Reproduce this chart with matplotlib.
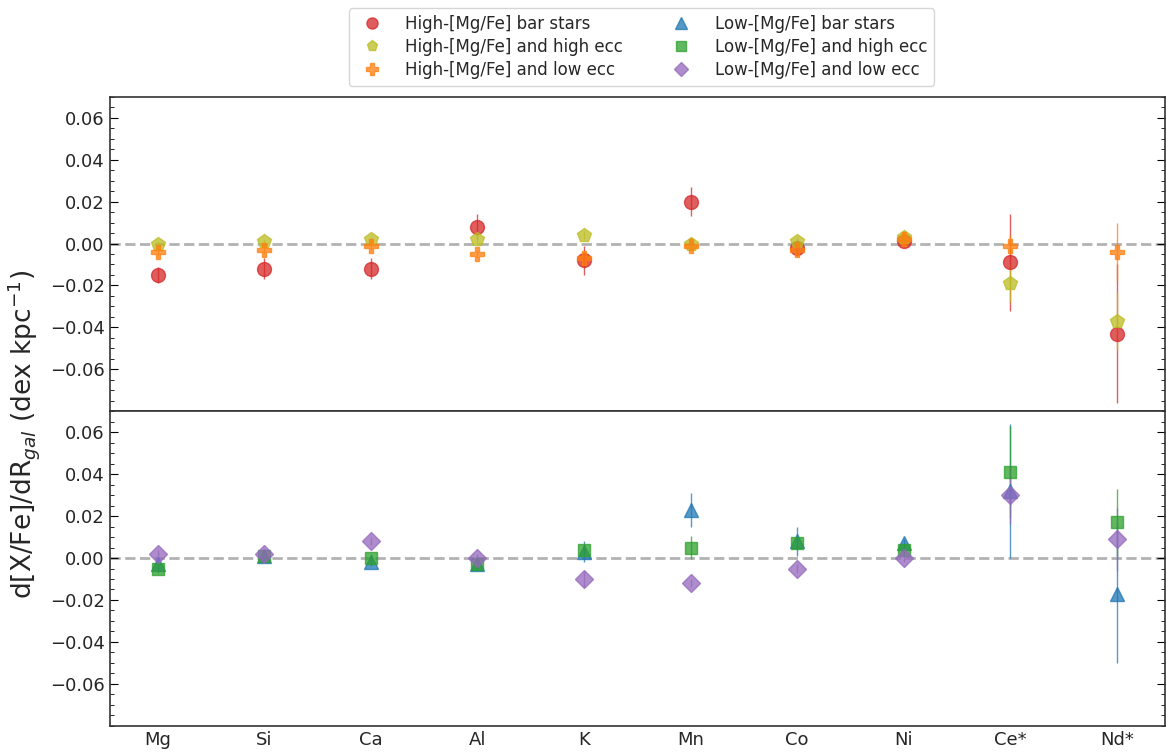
import matplotlib.pyplot as plt
import numpy as np
from matplotlib.ticker import AutoMinorLocator

elements = ['Mg', 'Si', 'Ca', 'Al', 'K', 'Mn', 'Co', 'Ni', 'Ce*', 'Nd*']

# high-[Mg/Fe] gradients (top panel)
hi_bar = [-0.015, -0.012, -0.012, 0.008, -0.008, 0.020, -0.002, 0.001, -0.009, -0.043]
hi_bar_err = [0.004, 0.005, 0.005, 0.006, 0.007, 0.007, 0.004, 0.002, 0.023, 0.033]
hi_hecc = [0.000, 0.001, 0.002, 0.002, 0.004, 0.000, 0.001, 0.003, -0.019, -0.037]
hi_hecc_err = [0.001, 0.001, 0.001, 0.002, 0.002, 0.003, 0.002, 0.001, 0.009, 0.014]
hi_lecc = [-0.004, -0.003, -0.001, -0.005, -0.007, -0.001, -0.003, 0.002, -0.001, -0.004]
hi_lecc_err = [0.002, 0.002, 0.002, 0.002, 0.003, 0.002, 0.003, 0.001, 0.005, 0.014]

# low-[Mg/Fe] gradients (bottom panel)
lo_bar = [-0.003, 0.001, -0.002, -0.003, 0.003, 0.023, 0.008, 0.007, 0.032, -0.017]
lo_bar_err = [0.003, 0.002, 0.002, 0.002, 0.005, 0.008, 0.007, 0.002, 0.032, 0.033]
lo_hecc = [-0.005, 0.001, 0.000, -0.003, 0.004, 0.005, 0.007, 0.004, 0.041, 0.017]
lo_hecc_err = [0.002, 0.002, 0.002, 0.002, 0.002, 0.0055, 0.003, 0.002, 0.022, 0.016]
lo_lecc = [0.002, 0.002, 0.008, 0.000, -0.010, -0.012, -0.005, 0.000, 0.030, 0.009]
lo_lecc_err = [0.002, 0.002, 0.002, 0.002, 0.004, 0.002, 0.002, 0.002, 0.014, 0.015]

x = np.arange(len(elements))

fig, (ax1, ax2) = plt.subplots(2, 1, figsize=(11.66, 7.56), dpi=100, sharex=True)
fig.subplots_adjust(left=0.094, right=0.999, top=0.872, bottom=0.04, hspace=0)

def series(ax, y, err, fmt, color, label, ms=10):
    eb = ax.errorbar(x, y, yerr=err, fmt=fmt, color=color, ms=ms, alpha=0.75,
                     elinewidth=1, capsize=0)
    eb[0].set_label(label)
    return eb[0]

handles = []
handles.append(series(ax1, hi_bar, hi_bar_err, 'o', 'tab:red', 'High-[Mg/Fe] bar stars'))
handles.append(series(ax1, hi_hecc, hi_hecc_err, 'p', 'tab:olive', 'High-[Mg/Fe] and high ecc'))
handles.append(series(ax1, hi_lecc, hi_lecc_err, 'P', 'tab:orange', 'High-[Mg/Fe] and low ecc'))
handles.append(series(ax2, lo_bar, lo_bar_err, '^', 'tab:blue', 'Low-[Mg/Fe] bar stars'))
handles.append(series(ax2, lo_hecc, lo_hecc_err, 's', 'tab:green', 'Low-[Mg/Fe] and high ecc', ms=9))
handles.append(series(ax2, lo_lecc, lo_lecc_err, 'D', 'tab:purple', 'Low-[Mg/Fe] and low ecc', ms=9))

for ax in (ax1, ax2):
    ax.axhline(0, color='gray', ls='--', lw=2, alpha=0.6, zorder=0)
    ax.set_ylim(-0.08, 0.07)
    ax.set_yticks([-0.06, -0.04, -0.02, 0.0, 0.02, 0.04, 0.06])
    ax.yaxis.set_minor_locator(AutoMinorLocator())
    ax.tick_params(axis='y', which='both', direction='in', left=True, right=True,
                   labelsize=13, labelcolor='#262626')
    ax.tick_params(axis='y', which='major', length=6)
    ax.tick_params(axis='y', which='minor', length=3)
    ax.tick_params(axis='x', length=0, labelsize=13, labelcolor='#262626')
    for s in ax.spines.values():
        s.set_linewidth(1.2)
        s.set_color('#333333')

ax2.set_xlim(-0.45, 9.45)
ax2.set_xticks(x)
ax2.set_xticklabels(elements)

fig.text(0.02, 0.425, r'd[X/Fe]/dR$_{gal}$ (dex kpc$^{-1}$)', rotation=90,
         va='center', ha='center', fontsize=19, color='#262626')

leg = fig.legend(handles=handles, loc='upper center', bbox_to_anchor=(0.55, 1.0),
                 ncol=2, fontsize=12, columnspacing=2.5, handletextpad=1.0,
                 labelspacing=0.3, markerscale=0.8)
for t in leg.get_texts():
    t.set_color('#262626')

fig.savefig('out.png', dpi=100)
